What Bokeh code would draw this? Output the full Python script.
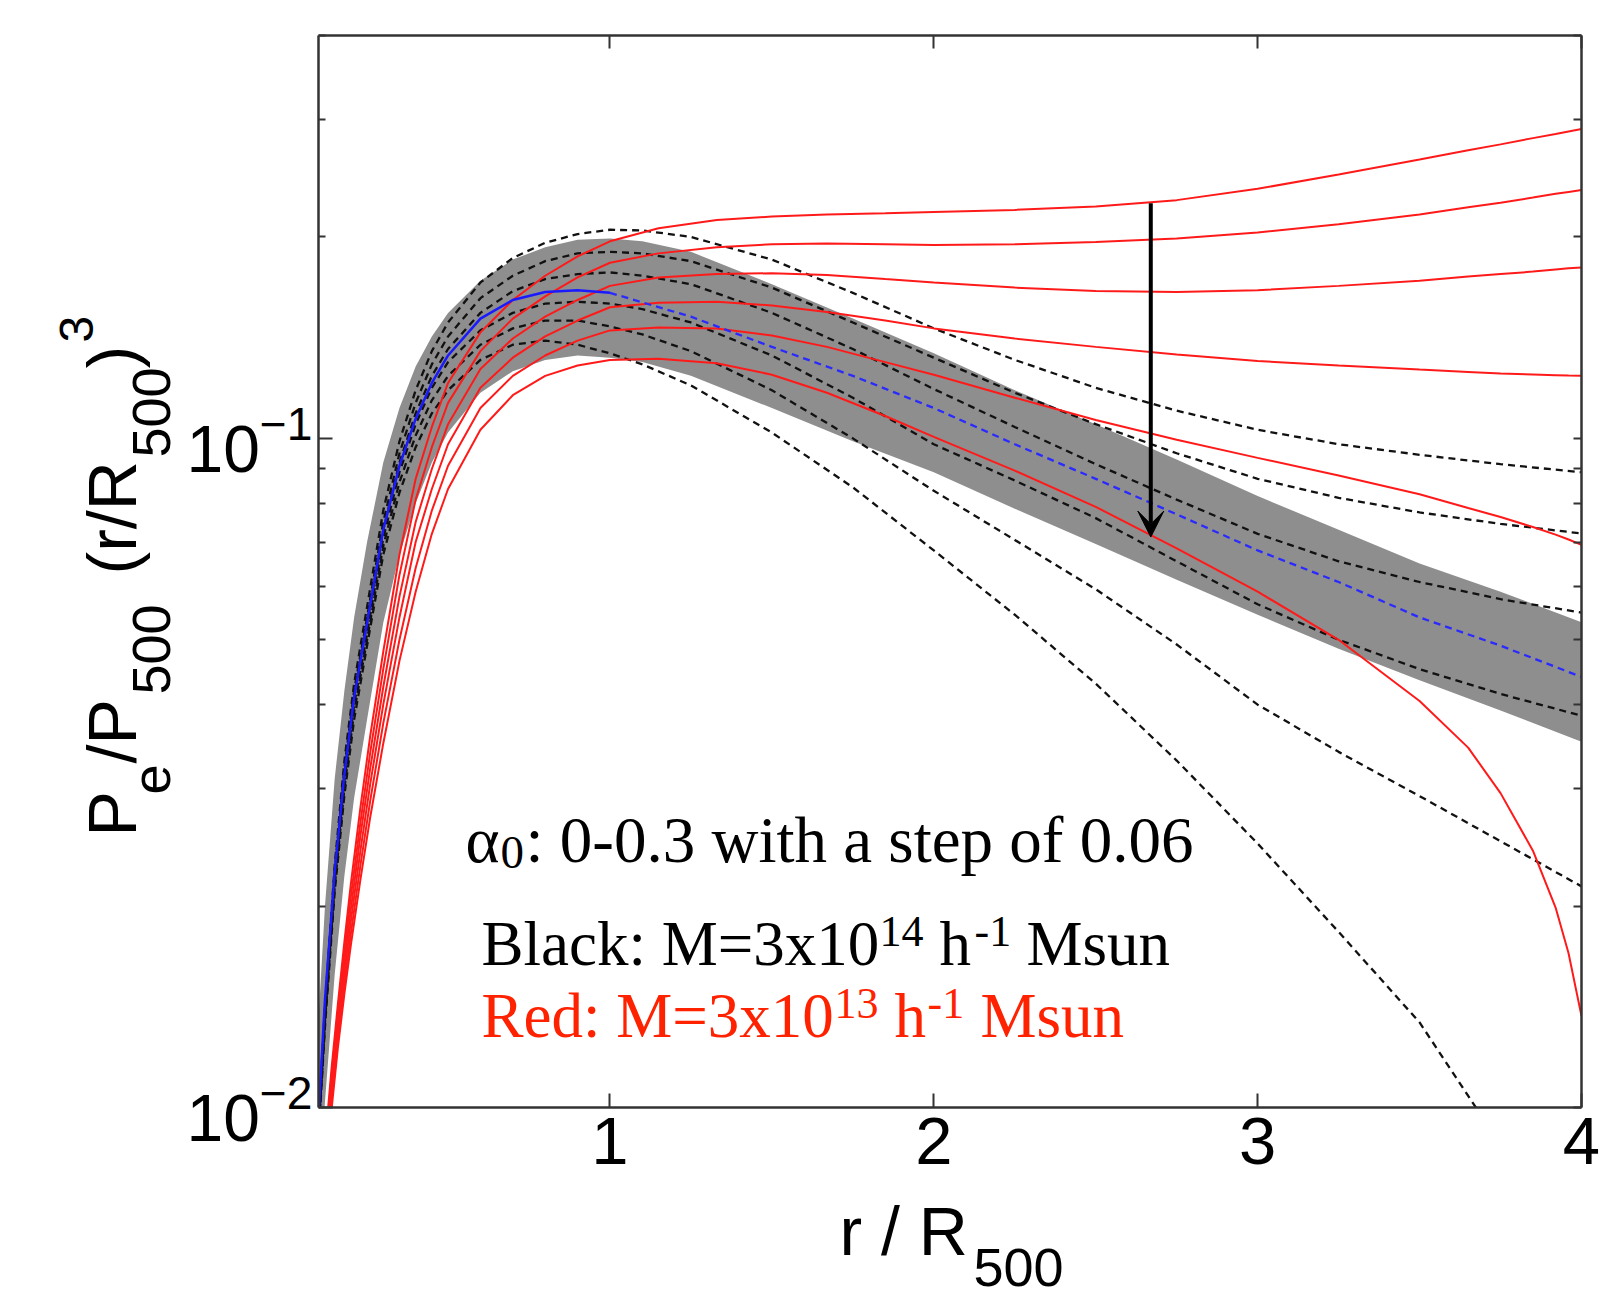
from bokeh.plotting import figure
from bokeh.layouts import row, column
from bokeh.models import Range1d, LinearAxis, LogAxis, FixedTicker, Label, Arrow, VeeHead
from bokeh.embed import file_html
from bokeh.resources import INLINE
import math

# ---------------- data ----------------
x_ticks = [1, 2, 3, 4]
y_major = [0.01, 0.1]
y_minor = [0.02, 0.03, 0.04, 0.05, 0.06, 0.07, 0.08, 0.09, 0.2, 0.3, 0.4]

# grey scatter band of the universal profile
r_band = [0.10, 0.12, 0.15, 0.18, 0.21, 0.25, 0.30, 0.35, 0.40, 0.45, 0.50, 0.60, 0.70, 0.80, 0.90,
          1.00, 1.10, 1.25, 1.50, 1.75, 2.00, 2.25, 2.50, 2.75, 3.00, 3.25, 3.50, 3.75, 4.00]
band_hi = [0.0135, 0.0200, 0.031, 0.042, 0.054, 0.070, 0.092, 0.111, 0.128, 0.142, 0.154, 0.172, 0.185, 0.193, 0.198,
           0.199, 0.197, 0.190, 0.170, 0.151, 0.134, 0.118, 0.105, 0.093, 0.082, 0.073, 0.065, 0.059, 0.0531]
band_lo = [0.0068, 0.0102, 0.0158, 0.0222, 0.0290, 0.038, 0.053, 0.067, 0.080, 0.092, 0.102, 0.117, 0.126, 0.131, 0.133,
           0.132, 0.130, 0.124, 0.111, 0.099, 0.089, 0.0785, 0.0695, 0.0615, 0.0545, 0.0485, 0.0435, 0.0392, 0.0352]

# blue universal profile (solid inside R500, dashed outside)
r_blue_in = [0.10, 0.12, 0.15, 0.18, 0.21, 0.25, 0.30, 0.35, 0.40, 0.45, 0.50, 0.60, 0.70, 0.80, 0.90, 1.00]
blue_in = [0.0097, 0.0145, 0.0225, 0.0315, 0.041, 0.053, 0.073, 0.091, 0.107, 0.121, 0.133, 0.151, 0.161, 0.1655, 0.1665, 0.165]
r_blue_out = [1.00, 1.25, 1.50, 1.75, 2.00, 2.25, 2.50, 2.75, 3.00, 3.25, 3.50, 3.75, 4.00]
blue_out = [0.165, 0.152, 0.137, 0.124, 0.111, 0.098, 0.087, 0.077, 0.068, 0.061, 0.054, 0.049, 0.044]

# black dashed: M = 3e14 h^-1 Msun, alpha0 = 0 ... 0.3
r_black = [0.10, 0.12, 0.15, 0.18, 0.21, 0.25, 0.30, 0.35, 0.40, 0.45, 0.50, 0.60, 0.70, 0.80, 0.90,
           1.00, 1.10, 1.25, 1.50, 1.75, 2.00, 2.25, 2.50, 2.75, 3.00, 3.25, 3.50, 3.75, 4.00]
black_1 = [0.0095, 0.0142, 0.0230, 0.0330, 0.0430, 0.056, 0.078, 0.099, 0.118, 0.135, 0.149, 0.171, 0.186, 0.196, 0.202,
           0.205, 0.2045, 0.200, 0.185, 0.165, 0.146, 0.131, 0.119, 0.110, 0.103, 0.098, 0.0945, 0.0915, 0.089]
black_2 = [0.0094, 0.0140, 0.0226, 0.0322, 0.0420, 0.054, 0.075, 0.095, 0.113, 0.129, 0.142, 0.162, 0.175, 0.184, 0.189,
           0.190, 0.189, 0.184, 0.168, 0.149, 0.132, 0.117, 0.105, 0.0950, 0.0870, 0.0815, 0.0775, 0.0745, 0.0721]
black_3 = [0.0093, 0.0138, 0.0222, 0.0315, 0.0410, 0.053, 0.073, 0.092, 0.109, 0.124, 0.136, 0.154, 0.166, 0.173, 0.176,
           0.177, 0.175, 0.170, 0.154, 0.136, 0.1185, 0.104, 0.0915, 0.0810, 0.0720, 0.0655, 0.0610, 0.0575, 0.0549]
black_4 = [0.0092, 0.0136, 0.0218, 0.0308, 0.0400, 0.051, 0.071, 0.089, 0.105, 0.119, 0.130, 0.145, 0.154, 0.159, 0.160,
           0.159, 0.156, 0.149, 0.133, 0.115, 0.098, 0.0865, 0.0760, 0.0655, 0.0565, 0.0500, 0.0452, 0.0415, 0.0385]
black_5 = [0.0091, 0.0134, 0.0214, 0.0300, 0.0390, 0.050, 0.069, 0.086, 0.101, 0.114, 0.124, 0.138, 0.146, 0.150, 0.150,
           0.147, 0.143, 0.135, 0.118, 0.100, 0.0835, 0.0705, 0.0595, 0.0492, 0.0400, 0.0340, 0.0292, 0.0250, 0.0214]
black_6 = [0.0090, 0.0132, 0.0210, 0.0293, 0.0380, 0.049, 0.067, 0.083, 0.097, 0.109, 0.118, 0.131, 0.138, 0.140, 0.138,
           0.134, 0.129, 0.120, 0.102, 0.0845, 0.0680, 0.0545, 0.0430, 0.0330, 0.0248, 0.0183, 0.0134, 0.0088, 0.0060]

# red solid: M = 3e13 h^-1 Msun, alpha0 = 0 ... 0.3
r_red = [0.12, 0.14, 0.16, 0.18, 0.20, 0.23, 0.26, 0.30, 0.35, 0.40, 0.45, 0.50, 0.60, 0.70, 0.80, 0.90, 1.00, 1.15,
         1.33, 1.50, 1.67, 1.85, 2.00, 2.25, 2.50, 2.75, 3.00, 3.25, 3.50, 3.65, 3.75, 3.85, 3.92, 3.96, 4.00]
red_1 = [0.0088, 0.0114, 0.0143, 0.0177, 0.0216, 0.0282, 0.0360, 0.0480, 0.067, 0.087, 0.104, 0.121, 0.144, 0.161, 0.175, 0.187, 0.197, 0.206,
         0.212, 0.2145, 0.216, 0.217, 0.218, 0.2195, 0.222, 0.227, 0.236, 0.248, 0.261, 0.2695, 0.275, 0.281, 0.285, 0.2875, 0.290]
red_2 = [0.0086, 0.0111, 0.0139, 0.0171, 0.0207, 0.0268, 0.0340, 0.0452, 0.0625, 0.081, 0.097, 0.113, 0.135, 0.151, 0.163, 0.174, 0.183, 0.189,
         0.193, 0.195, 0.1955, 0.195, 0.1945, 0.195, 0.1965, 0.199, 0.203, 0.209, 0.216, 0.2215, 0.225, 0.229, 0.232, 0.2335, 0.235]
red_3 = [0.0084, 0.0108, 0.0135, 0.0165, 0.0198, 0.0256, 0.0322, 0.0425, 0.058, 0.075, 0.090, 0.105, 0.127, 0.141, 0.152, 0.161, 0.169, 0.174,
         0.176, 0.1765, 0.1755, 0.173, 0.171, 0.168, 0.166, 0.1655, 0.1665, 0.169, 0.172, 0.1745, 0.176, 0.1775, 0.1788, 0.1795, 0.180]
red_4 = [0.0082, 0.0105, 0.0131, 0.0159, 0.0190, 0.0243, 0.0305, 0.0400, 0.054, 0.070, 0.084, 0.098, 0.119, 0.132, 0.142, 0.150, 0.157, 0.1595,
         0.160, 0.158, 0.1545, 0.150, 0.146, 0.141, 0.137, 0.1335, 0.1305, 0.1285, 0.1267, 0.1257, 0.125, 0.1246, 0.1243, 0.1241, 0.124]
red_5 = [0.0080, 0.0102, 0.0127, 0.0153, 0.0182, 0.0231, 0.0288, 0.0375, 0.050, 0.064, 0.078, 0.091, 0.111, 0.124, 0.133, 0.140, 0.145, 0.1465,
         0.146, 0.1425, 0.137, 0.130, 0.1245, 0.115, 0.1065, 0.0995, 0.0935, 0.088, 0.0825, 0.0787, 0.0763, 0.0737, 0.0718, 0.0706, 0.0693]
red_6 = [0.0078, 0.0099, 0.0123, 0.0148, 0.0175, 0.0220, 0.0272, 0.0350, 0.0465, 0.059, 0.072, 0.084, 0.103, 0.116, 0.124, 0.1285, 0.131, 0.1315,
         0.1295, 0.1245, 0.117, 0.108, 0.1005, 0.0895, 0.0790, 0.0685, 0.0590, 0.0500, 0.0405, 0.0345, 0.0295, 0.0242, 0.0199, 0.0170, 0.0137]

black_series = [black_1, black_2, black_3, black_4, black_5, black_6]
red_series = [red_1, red_2, red_3, red_4, red_5, red_6]

# arrow (alpha0 increasing)
arrow_r = 2.67
arrow_from = 0.2245
arrow_to = 0.0712

# ---------------- layout sizes ----------------
TOTAL_W, TOTAL_H = 1608, 1298
YLAB_W = 182                 # strip holding the rotated y title
MAIN_W = TOTAL_W - YLAB_W    # 1426
B_LEFT, B_RIGHT, B_TOP, B_BOTTOM = 136, 27, 35, 85
MAIN_H = 1107 + B_BOTTOM     # frame: y 35 .. 1107
XLAB_H = TOTAL_H - MAIN_H

SANS = "Liberation Sans"
SERIF = "Liberation Serif"
MID = 0.3465   # distance (in em) from the alphabetic baseline up to the text middle

# ---------------- main figure ----------------
p = figure(width=MAIN_W, height=MAIN_H,
           x_range=Range1d(0.1, 4.0), y_range=Range1d(0.01, 0.4),
           y_axis_type="log", output_backend="svg", toolbar_location=None,
           min_border_left=B_LEFT, min_border_right=B_RIGHT,
           min_border_top=B_TOP, min_border_bottom=B_BOTTOM)
p.grid.visible = False
p.outline_line_color = None
p.background_fill_color = "white"
p.border_fill_color = "white"

AX = "#333333"


def style_axis(ax, size="67px"):
    ax.axis_line_color = AX
    ax.axis_line_width = 2.5
    ax.major_tick_line_color = AX
    ax.major_tick_line_width = 2
    ax.minor_tick_line_color = AX
    ax.minor_tick_line_width = 2
    ax.major_tick_in = 14
    ax.major_tick_out = 0
    ax.minor_tick_in = 7
    ax.minor_tick_out = 0
    ax.major_label_text_font = SANS
    ax.major_label_text_color = "black"
    ax.major_label_text_font_size = size


p.xaxis.ticker = FixedTicker(ticks=x_ticks)
p.yaxis.ticker = FixedTicker(ticks=y_major, minor_ticks=y_minor)
style_axis(p.xaxis[0], "67px")
style_axis(p.yaxis[0], "66px")
p.xaxis.major_label_standoff = 10
p.yaxis.major_label_standoff = 6

# mirrored (label-free) axes on top and right
top_ax = LinearAxis(ticker=FixedTicker(ticks=[], minor_ticks=x_ticks))
style_axis(top_ax)
top_ax.minor_tick_in = 13
top_ax.major_label_standoff = 0
p.add_layout(top_ax, "above")
right_ax = LogAxis(ticker=FixedTicker(ticks=[], minor_ticks=y_major + y_minor))
style_axis(right_ax)
right_ax.minor_tick_in = 8
right_ax.major_label_standoff = 0
p.add_layout(right_ax, "right")

# band
p.varea(x=r_band, y1=band_lo, y2=band_hi, fill_color="#8e8e8e", fill_alpha=1.0)

# black dashed curves
for ys in black_series:
    p.line(r_black, ys, line_color="#111111", line_width=2.3, line_dash="7 5")

# red curves
for ys in red_series:
    p.line(r_red, ys, line_color="#ff1a1a", line_width=2.0)

# blue universal profile
p.line(r_blue_in, blue_in, line_color="#1a1aff", line_width=2.5)
p.line(r_blue_out, blue_out, line_color="#2a2aff", line_width=2.3, line_dash="7 5")

# arrow
p.add_layout(Arrow(end=VeeHead(size=26, fill_color="black", line_color="black", line_width=1),
                   x_start=arrow_r, y_start=arrow_from, x_end=arrow_r, y_end=arrow_to,
                   line_color="black", line_width=4))


def lab(fig, x, base, text, size, font=SERIF, color="black", rotated=False):
    """x/base: start of the text and its alphabetic baseline (frame-relative screen px).
    The label is anchored at the text middle, which sits MID*size above the baseline."""
    if rotated:
        ax, ay, ang = base - MID * size, x, math.pi / 2
    else:
        ax, ay, ang = x, base + MID * size, 0.0
    fig.add_layout(Label(x=ax, y=ay, x_units="screen", y_units="screen", text=text,
                         text_font=font, text_font_size=f"{size}px", text_color=color,
                         text_align="left", text_baseline="middle", angle=ang))


RED_TXT = "#ff2200"
# frame-relative: x = px - 318, baseline y = 1107 - py
lab(p, 147, 245, "\u03b1", 65)
lab(p, 182, 239, "0", 47)
lab(p, 207, 245, ": 0-0.3 with a step of 0.06", 65)

lab(p, 163, 142, "Black: M=3x10", 63)
lab(p, 561, 161, "14", 44)
lab(p, 621, 142, "h", 63)
lab(p, 656, 161, "-1", 44)
lab(p, 708, 142, "Msun", 63)

lab(p, 163, 70, "Red: M=3x10", 63, color=RED_TXT)
lab(p, 516, 89, "13", 44, color=RED_TXT)
lab(p, 576, 70, "h", 63, color=RED_TXT)
lab(p, 609, 89, "-1", 44, color=RED_TXT)
lab(p, 662, 70, "Msun", 63, color=RED_TXT)


def text_strip(w, h, left=0, right=0, top=0, bottom=0):
    f = figure(width=w, height=h, x_range=Range1d(0, 1), y_range=Range1d(0, 1), title=None,
               output_backend="svg", toolbar_location=None,
               x_axis_location=None, y_axis_location=None,
               min_border_left=left, min_border_right=right, min_border_top=top, min_border_bottom=bottom)
    f.grid.visible = False
    f.outline_line_color = None
    f.background_fill_color = "white"
    f.border_fill_color = "white"
    return f


# ---------------- y title strip: frame spans y 35..1107, x 0..182 ----------------
ylab = text_strip(YLAB_W, MAIN_H, top=B_TOP, bottom=B_BOTTOM)
lab(ylab, 271, 135, "P", 68, font=SANS, rotated=True)
lab(ylab, 313, 170, "e", 54, font=SANS, rotated=True)
lab(ylab, 344, 135, "/P", 68, font=SANS, rotated=True)
lab(ylab, 413, 170, "500", 54, font=SANS, rotated=True)
lab(ylab, 533, 135, "(r/R", 68, font=SANS, rotated=True)
lab(ylab, 650, 170, "500", 54, font=SANS, rotated=True)
lab(ylab, 739, 135, ")", 68, font=SANS, rotated=True)
lab(ylab, 765, 93, "3", 48, font=SANS, rotated=True)

# ---------------- x title strip: frame spans x 318..1581, y MAIN_H..TOTAL_H ----------------
xlab = text_strip(MAIN_W, XLAB_H, left=B_LEFT, right=B_RIGHT)
lab(xlab, 521, TOTAL_H - 1254, "r / R", 68, font=SANS)
lab(xlab, 655, TOTAL_H - 1286, "500", 54, font=SANS)

layout = row(ylab, column(p, xlab))
open("out.html", "w").write(file_html(layout, INLINE))
